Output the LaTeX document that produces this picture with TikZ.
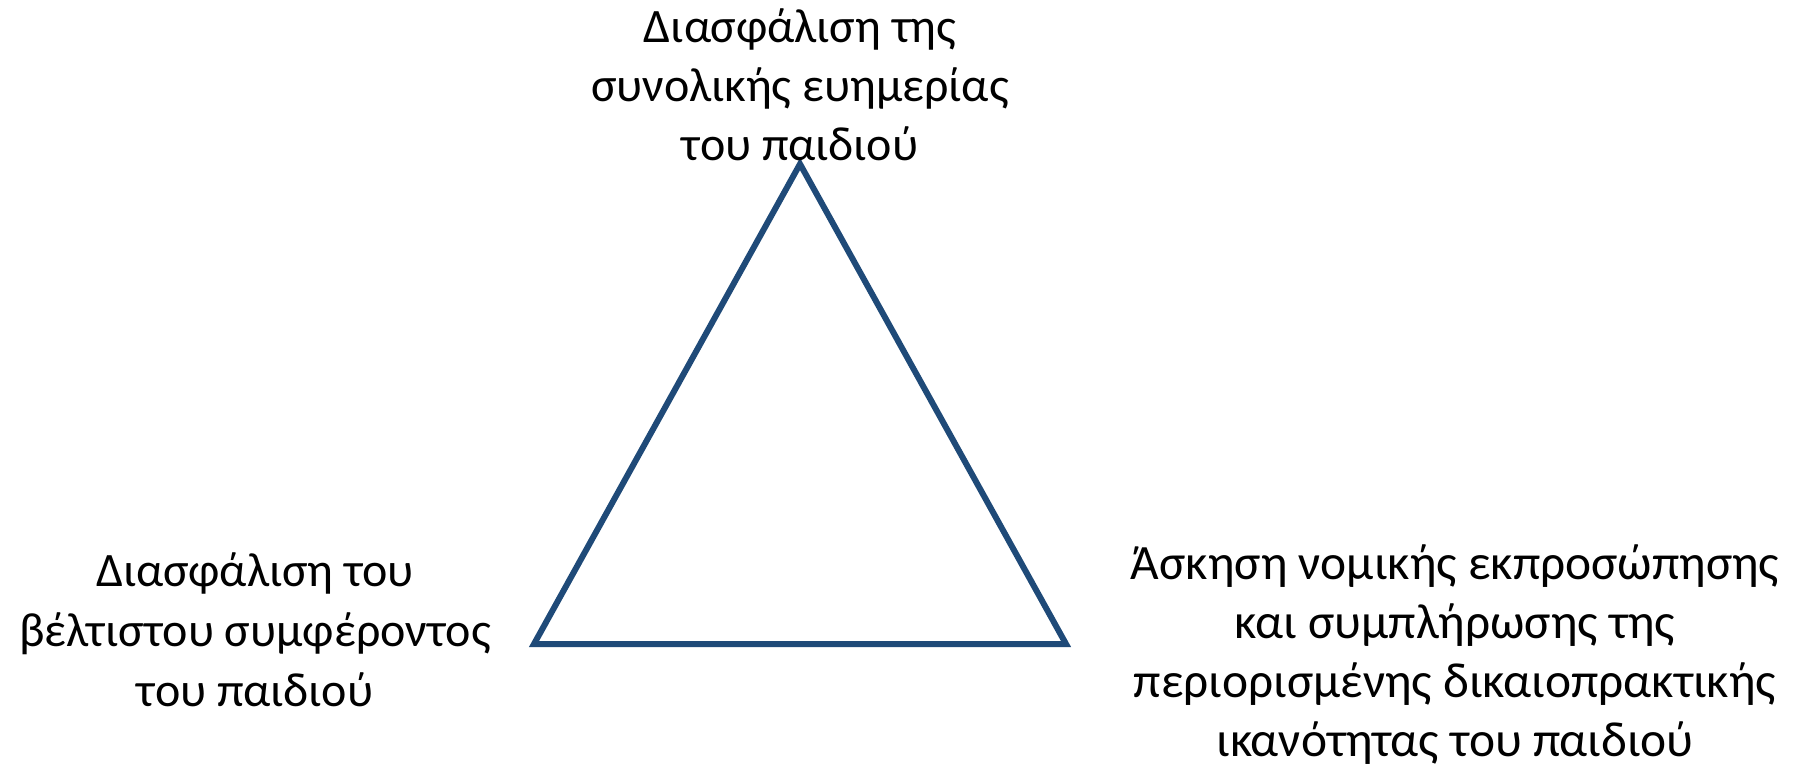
\documentclass[tikz,border=0pt]{standalone}
\usepackage{fontspec}
\setmainfont{Carlito}
\definecolor{tri}{HTML}{1F4A78}
\begin{document}
\begin{tikzpicture}[x=0.5pt,y=-0.5pt,
  lbl/.style={align=center,inner sep=0pt,font=\fontsize{24}{30}\selectfont},
  side/.style={draw=tri,line width=3pt,line join=miter}]
\useasboundingbox (0,0) rectangle (1797,766);
\coordinate (A) at (800,164);
\coordinate (B) at (534,644);
\coordinate (C) at (1066,644);
\draw[side] (A) -- (B) -- (C) -- cycle;
\node[lbl,font=\fontsize{24}{29.5}\selectfont] (top) at (800,85) {Διασφάλιση της\\συνολικής ευημερίας\\του παιδιού};
\node[lbl] (left) at (255,630) {Διασφάλιση του\\βέλτιστου συμφέροντος\\του παιδιού};
\node[lbl,font=\fontsize{24.7}{29.5}\selectfont] (right) at (1455,655) {Άσκηση νομικής εκπροσώπησης\\και συμπλήρωσης της\\περιορισμένης δικαιοπρακτικής\\ικανότητας του παιδιού};
\end{tikzpicture}
\end{document}
